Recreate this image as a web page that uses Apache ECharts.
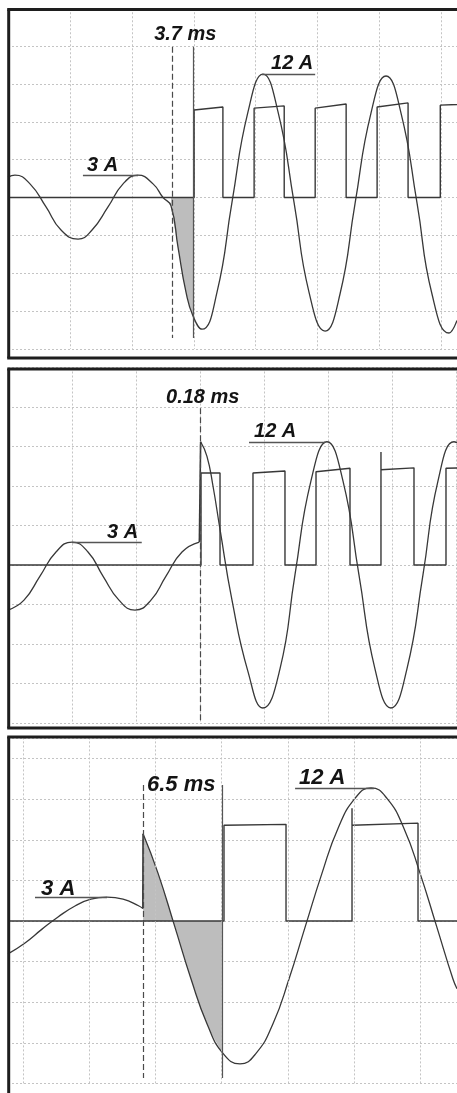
<!DOCTYPE html>
<html><head><meta charset="utf-8">
<script src="https://cdn.jsdelivr.net/npm/echarts@6/dist/echarts.min.js"></script>
<style>html,body{margin:0;padding:0;background:#fff}#c{width:457px;height:1093px}</style>
</head><body><div id="c"></div>
<script>
// ---------- DATA (t: time in scope units, 10 per division; y: divisions from zero line) ----------
// Panel 1
const p1Current = [[0,0.54],[1.13,0.59],[3.55,0.36],[6.14,-0.25],[8.56,-0.86],[11.31,-1.10],[13.57,-0.86],[16.15,-0.25],[18.58,0.36],[21.0,0.59],[23.42,0.36],[25.03,0.0],[26.32,-0.22],[27.45,-1.31],[28.74,-2.50],[29.87,-3.13],[31.33,-3.48],[33.75,-2.50],[36.17,-0.12],[38.75,2.26],[41.18,3.26],[43.6,2.26],[46.18,-0.12],[48.6,-2.50],[51.19,-3.53],[53.61,-2.55],[56.03,-0.17],[58.61,2.23],[61.04,3.21],[63.46,2.23],[66.05,-0.15],[68.46,-2.55],[71.21,-3.58],[72.5,-3.25]];
const p1PulseOn = [30.05,39.74,49.6,59.6,69.8];
const p1PulseOff = [34.7,44.6,54.6,64.6,80];
const p1PulseTop = [2.31,2.36,2.36,2.39,2.44];
const p1PulseTopEnd = [2.39,2.42,2.47,2.50,2.50];
const p1PulseSpike = [null,null,null,null,null];
const p1MarkerT = [26.5, 29.9];         // dashed, solid
const p1MarkerSpan = [3.98, -3.71];
const p1Underline3A = [[12.1,0.59],[21.0,0.59]];
const p1Underline12A = [[41.0,3.26],[49.6,3.26]];

// Panel 2
const p2CurrentPre = [[0,-1.14],[2.5,-0.89],[5.0,-0.28],[7.5,0.33],[10.0,0.58],[12.5,0.33],[14.84,-0.28],[17.34,-0.89],[19.84,-1.14],[22.34,-0.89],[24.69,-0.28],[27.19,0.33],[29.9,0.58]];
const p2CurrentPost = [[30.1,3.12],[31.09,2.75],[32.03,2.0],[33.13,0.9],[35.0,-0.89],[37.5,-2.7],[39.84,-3.62],[42.5,-2.63],[44.84,-0.25],[47.34,2.13],[49.84,3.12],[52.34,2.13],[54.84,-0.25],[57.34,-2.63],[59.84,-3.62],[62.34,-2.63],[64.84,-0.25],[67.19,2.13],[69.69,3.12],[70.16,3.1]];
const p2PulseOn = [30.16,38.28,48.13,58.28,68.44];
const p2PulseOff = [33.13,43.28,53.44,63.44,80];
const p2PulseTop = [2.33,2.33,2.36,2.41,2.45];
const p2PulseTopEnd = [2.33,2.38,2.45,2.46,2.50];
const p2PulseSpike = [null,null,null,2.86,null];
const p2MarkerT = [30.0];
const p2MarkerSpan = [3.97, -4.0];
const p2Underline3A = [[10.0,0.58],[20.9,0.58]];
const p2Underline12A = [[37.66,3.12],[49.53,3.12]];

// Panel 3
const p3CurrentPre = [[-2.27,-0.81],[0.3,-0.54],[2.87,-0.2],[5.29,0.1],[7.85,0.37],[10.27,0.54],[12.69,0.59],[15.11,0.54],[17.52,0.37],[18.1,0.31]];
const p3CurrentPost = [[18.13,2.15],[20.39,1.18],[22.89,-0.12],[25.38,-1.43],[27.79,-2.53],[30.21,-3.26],[32.78,-3.52],[35.2,-3.26],[37.76,-2.53],[40.18,-1.43],[42.67,-0.12],[45.17,1.18],[47.58,2.28],[50.15,3.02],[52.57,3.28],[54.98,3.02],[57.55,2.28],[59.97,1.18],[62.46,-0.12],[64.95,-1.43],[65.56,-1.67]];
const p3PulseOn = [30.36,49.7];
const p3PulseOff = [39.73,59.67];
const p3PulseTop = [2.36,2.36];
const p3PulseTopEnd = [2.38,2.41];
const p3PulseSpike = [null,2.78];
const p3MarkerT = [18.13, 30.06];
const p3MarkerSpan = [3.35, -3.87];
const p3Underline3A = [[1.81,0.59],[12.69,0.59]];
const p3Underline12A = [[41.1,3.28],[53.0,3.28]];
const p3GridT = [0,10,20,30,40,50,60];

// Labels: [text, t, y] (left edge, cap middle)
const p1Labels = [['3.7 ms',23.6,4.31],['3 A',12.76,0.85],['12 A',42.47,3.53]];
const p2Labels = [['0.18 ms',24.69,4.24],['3 A',15.47,0.82],['12 A',38.44,3.39]];
const p3Labels = [['6.5 ms',18.73,3.34],['3 A',2.72,0.80],['12 A',41.69,3.53]];

// ---------- LAYOUT ----------
const PANELS = [
  {tMin:0, tMax:72.5, yMin:-4, yMax:5, top:8.25, bottom:744.1, xGrid:true, font:20, borderTop:9.5, borderBottom:358},
  {tMin:0, tMax:70.16, yMin:-4, yMax:5, top:367.5, bottom:370, xGrid:true, font:20, borderTop:369, borderBottom:728},
  {tMin:-2.27, tMax:65.56, yMin:-4, yMax:4.5, top:738.3, bottom:9.6, xGrid:false, font:22, borderTop:737, borderBottom:null}
];
const INK = '#383838';
const GRIDC = '#c4c4c4';

function pulseTrain(on, off, top, topEnd, spike, tStart, tEnd) {
  const pts = [[tStart, 0]];
  for (let i = 0; i < on.length; i++) {
    pts.push([on[i], 0]);
    if (spike[i] != null) pts.push([on[i], spike[i]]);
    pts.push([on[i], top[i]]);
    pts.push([off[i], topEnd[i]]);
    pts.push([off[i], 0]);
  }
  if (off[off.length-1] < tEnd) pts.push([tEnd, 0]);
  return pts;
}

const grids = [], xAxes = [], yAxes = [], series = [];
PANELS.forEach((p, i) => {
  grids.push({left:8, right:0, top:p.top, bottom:p.bottom, containLabel:false});
  xAxes.push({type:'value', gridIndex:i, min:p.tMin, max:p.tMax, interval: p.xGrid ? 10 : undefined,
    axisLine:{show:false}, axisTick:{show:false}, axisLabel:{show:false},
    splitLine:{show:p.xGrid, lineStyle:{color:GRIDC, type:[2,2], width:1}}});
  yAxes.push({type:'value', gridIndex:i, min:p.yMin, max:p.yMax, interval:1,
    axisLine:{show:false}, axisTick:{show:false}, axisLabel:{show:false},
    splitLine:{show:true, lineStyle:{color:GRIDC, type:[2,2], width:1}}});
});

function ml(a, b, style) { return [{coord:a, lineStyle:style}, {coord:b}]; }
const dashedStyle = {color:'#4a4a4a', width:1.2, type:[6,3]};
const solidStyle = {color:'#555', width:1.2, type:'solid'};
const ulStyle = {color:'#555', width:1.3, type:'solid'};

const cfg = [
  {cur:[p1Current], pulse:[p1PulseOn,p1PulseOff,p1PulseTop,p1PulseTopEnd,p1PulseSpike], mk:p1MarkerT, span:p1MarkerSpan,
   ul:[p1Underline3A,p1Underline12A], shade:[p1MarkerT[0]-0.2, p1MarkerT[1]], shadeSrc:p1Current, solid:true},
  {cur:[p2CurrentPre,p2CurrentPost], pulse:[p2PulseOn,p2PulseOff,p2PulseTop,p2PulseTopEnd,p2PulseSpike], mk:p2MarkerT, span:p2MarkerSpan,
   ul:[p2Underline3A,p2Underline12A], shade:null, solid:false},
  {cur:[p3CurrentPre,p3CurrentPost], pulse:[p3PulseOn,p3PulseOff,p3PulseTop,p3PulseTopEnd,p3PulseSpike], mk:p3MarkerT, span:p3MarkerSpan,
   ul:[p3Underline3A,p3Underline12A], shade:[p3MarkerT[0], p3MarkerT[1]+0.2], shadeSrc:p3CurrentPost, solid:true, grid:p3GridT}
];

cfg.forEach((c, i) => {
  const p = PANELS[i];
  // shading
  if (c.shade) {
    const d = c.shadeSrc.filter(q => q[0] >= c.shade[0] && q[0] <= c.shade[1]);
    series.push({type:'line', xAxisIndex:i, yAxisIndex:i, data:d, smooth:0.5, symbol:'none', z:1,
      lineStyle:{width:0}, areaStyle:{color:'#bdbdbd', opacity:1, origin:0}, silent:true});
  }
  // vertical grid via markLine for panel 3
  const gridLines = (c.grid || []).map(t => ({xAxis:t, lineStyle:{color:GRIDC, type:[2,2], width:1}}));
  // markers + underlines
  const marks = [];
  marks.push(ml([c.mk[0], c.span[0]], [c.mk[0], c.span[1]], dashedStyle));
  if (c.solid) marks.push(ml([c.mk[1], c.span[0]], [c.mk[1], c.span[1]], solidStyle));
  c.ul.forEach(u => marks.push(ml(u[0], u[1], ulStyle)));
  // pulse train
  series.push({type:'line', xAxisIndex:i, yAxisIndex:i, z:3, symbol:'none', smooth:false,
    data: pulseTrain(...c.pulse, p.tMin, p.tMax),
    lineStyle:{color:INK, width:1.4},
    markLine:{silent:true, symbol:['none','none'], label:{show:false}, animation:false,
      data: gridLines.concat(marks)}});
  // current
  c.cur.forEach(arr => {
    series.push({type:'line', xAxisIndex:i, yAxisIndex:i, z:4, symbol:'none', smooth:0.5, data:arr,
      lineStyle:{color:INK, width:1.3}});
  });
  if (c.cur.length === 2) {
    const a = c.cur[0], b = c.cur[1];
    series.push({type:'line', xAxisIndex:i, yAxisIndex:i, z:4, symbol:'none', data:[a[a.length-1], b[0]],
      lineStyle:{color:INK, width:1.6}});
  }
});

const chart = echarts.init(document.getElementById('c'), null, {renderer:'canvas'});
chart.setOption({backgroundColor:'#fff', animation:false, grid:grids, xAxis:xAxes, yAxis:yAxes, series:series});

// borders + labels
const g = [];
PANELS.forEach(p => {
  const bot = p.borderBottom == null ? 1093 : p.borderBottom;
  g.push({type:'line', shape:{x1:8.7, y1:p.borderTop, x2:8.7, y2:bot}, style:{stroke:'#1e1e1e', lineWidth:3}, z:100});
  g.push({type:'line', shape:{x1:7.2, y1:p.borderTop, x2:457, y2:p.borderTop}, style:{stroke:'#1e1e1e', lineWidth:3}, z:100});
  if (p.borderBottom != null)
    g.push({type:'line', shape:{x1:7.2, y1:p.borderBottom, x2:457, y2:p.borderBottom}, style:{stroke:'#1e1e1e', lineWidth:3}, z:100});
});
[p1Labels, p2Labels, p3Labels].forEach((labs, i) => {
  labs.forEach(l => {
    const px = chart.convertToPixel({gridIndex:i}, [l[1], l[2]]);
    g.push({type:'text', x:px[0], y:px[1], z:101, style:{text:l[0], fill:'#141414',
      fontFamily:'"Liberation Sans", Arial, sans-serif', fontWeight:'bold', fontStyle:'italic',
      fontSize:PANELS[i].font, align:'left', verticalAlign:'middle'}});
  });
});
chart.setOption({graphic:{elements:g}});
</script></body></html>
